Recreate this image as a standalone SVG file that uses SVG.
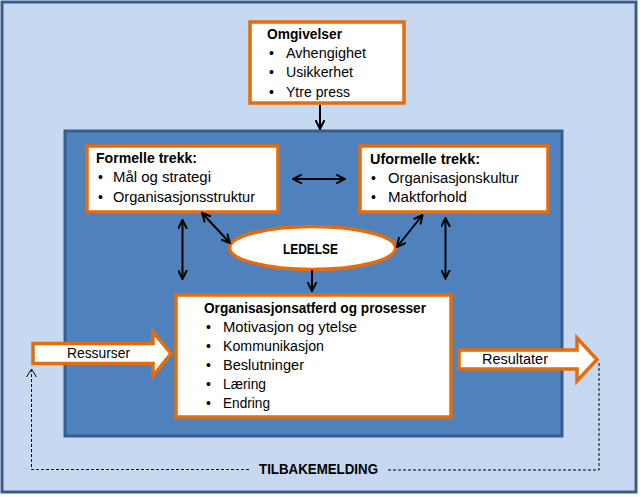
<svg xmlns="http://www.w3.org/2000/svg" width="644" height="497" viewBox="0 0 644 497">
<defs>
<style>
.bg{fill:#c6d9f1;stroke:#385d8a;stroke-width:3}
.inner{fill:#4f81bd;stroke:#385d8a;stroke-width:3}
.box{fill:#ffffff;stroke:#e46c0a;stroke-width:3.5}
.t{font-family:"Liberation Sans",Arial,sans-serif;font-size:14px;fill:#000}
.b{font-weight:bold}
.con{stroke:#000;stroke-width:2;fill:none}
.dash{stroke:#000;stroke-width:1;fill:none;stroke-dasharray:3,2}
</style>
<marker id="ah" viewBox="0 0 10 10" refX="9" refY="5" markerWidth="10" markerHeight="10" markerUnits="userSpaceOnUse" orient="auto-start-reverse">
<path d="M0,0.5 L9,5 L0,9.5" fill="none" stroke="#000" stroke-width="2"/>
</marker>
</defs>
<rect class="bg" x="2" y="2" width="634" height="490"/>
<rect class="inner" x="65" y="131" width="497" height="305"/>

<g id="omgivelser">
<rect class="box" x="250" y="22" width="154" height="81"/>
<text class="t b" x="267" y="39" textLength="75" lengthAdjust="spacingAndGlyphs">Omgivelser</text>
<text class="t" x="269" y="58">•</text><text class="t" x="286" y="58" textLength="80" lengthAdjust="spacingAndGlyphs">Avhengighet</text>
<text class="t" x="269" y="77">•</text><text class="t" x="286" y="77" textLength="67" lengthAdjust="spacingAndGlyphs">Usikkerhet</text>
<text class="t" x="269" y="97">•</text><text class="t" x="286" y="97" textLength="64" lengthAdjust="spacingAndGlyphs">Ytre press</text>
</g>

<g id="formelle">
<rect class="box" x="87" y="146" width="191" height="66"/>
<text class="t b" x="96" y="163" textLength="101" lengthAdjust="spacingAndGlyphs">Formelle trekk:</text>
<text class="t" x="98" y="182">•</text><text class="t" x="113" y="182" textLength="98" lengthAdjust="spacingAndGlyphs">Mål og strategi</text>
<text class="t" x="98" y="202">•</text><text class="t" x="113" y="202" textLength="142" lengthAdjust="spacingAndGlyphs">Organisasjonsstruktur</text>
</g>

<g id="uformelle">
<rect class="box" x="360" y="146" width="188" height="66"/>
<text class="t b" x="370" y="164" textLength="110" lengthAdjust="spacingAndGlyphs">Uformelle trekk:</text>
<text class="t" x="371" y="183">•</text><text class="t" x="388" y="183" textLength="131" lengthAdjust="spacingAndGlyphs">Organisasjonskultur</text>
<text class="t" x="371" y="202">•</text><text class="t" x="388" y="202" textLength="79" lengthAdjust="spacingAndGlyphs">Maktforhold</text>
</g>

<g id="ledelse">
<ellipse cx="312.5" cy="248" rx="83" ry="21.5" fill="#fff" stroke="#e46c0a" stroke-width="3.5"/>
<text class="t b" x="310.5" y="254" text-anchor="middle" textLength="55" lengthAdjust="spacingAndGlyphs">LEDELSE</text>
</g>

<g id="prosesser">
<rect class="box" x="176" y="295" width="275" height="122"/>
<text class="t b" x="204" y="313" textLength="222" lengthAdjust="spacingAndGlyphs">Organisasjonsatferd og prosesser</text>
<text class="t" x="206" y="332">•</text><text class="t" x="223" y="332" textLength="134" lengthAdjust="spacingAndGlyphs">Motivasjon og ytelse</text>
<text class="t" x="206" y="351">•</text><text class="t" x="223" y="351" textLength="101" lengthAdjust="spacingAndGlyphs">Kommunikasjon</text>
<text class="t" x="206" y="370">•</text><text class="t" x="223" y="370" textLength="81" lengthAdjust="spacingAndGlyphs">Beslutninger</text>
<text class="t" x="206" y="389">•</text><text class="t" x="223" y="389" textLength="43" lengthAdjust="spacingAndGlyphs">Læring</text>
<text class="t" x="206" y="408">•</text><text class="t" x="223" y="408" textLength="47" lengthAdjust="spacingAndGlyphs">Endring</text>
</g>

<g id="ressurser">
<polygon class="box" points="33,343.5 153,343.5 153,332 171,353.5 153,376 153,363.5 33,363.5"/>
<text class="t" x="67" y="358" textLength="63" lengthAdjust="spacingAndGlyphs">Ressurser</text>
</g>

<g id="resultater">
<polygon class="box" points="459,350 577,350 577,338 597,359.5 577,381 577,369 459,369"/>
<text class="t" x="482" y="364" textLength="66" lengthAdjust="spacingAndGlyphs">Resultater</text>
</g>

<g id="tilbakemelding">
<text class="t b" x="259" y="474" textLength="119" lengthAdjust="spacingAndGlyphs">TILBAKEMELDING</text>
</g>

<g id="connectors">
<line class="con" x1="320" y1="105" x2="320" y2="129" marker-end="url(#ah)"/>
<line class="con" x1="293" y1="179" x2="345" y2="179" marker-start="url(#ah)" marker-end="url(#ah)"/>
<line class="con" x1="182.5" y1="220" x2="182.5" y2="279" marker-start="url(#ah)" marker-end="url(#ah)"/>
<line class="con" x1="202" y1="213" x2="230" y2="243" marker-start="url(#ah)" marker-end="url(#ah)"/>
<line class="con" x1="422.5" y1="215" x2="397" y2="247" marker-start="url(#ah)" marker-end="url(#ah)"/>
<line class="con" x1="445.5" y1="218" x2="445.5" y2="278.5" marker-start="url(#ah)" marker-end="url(#ah)"/>
<line class="con" x1="312" y1="270" x2="312" y2="291" marker-end="url(#ah)"/>
<polyline class="dash" points="249,469.5 31.5,469.5 31.5,370"/>
<polyline points="26.5,377 31.5,369 36.5,377" fill="none" stroke="#000" stroke-width="1"/>
<polyline class="dash" points="388,470 599,470 599,362"/>
</g>
</svg>
